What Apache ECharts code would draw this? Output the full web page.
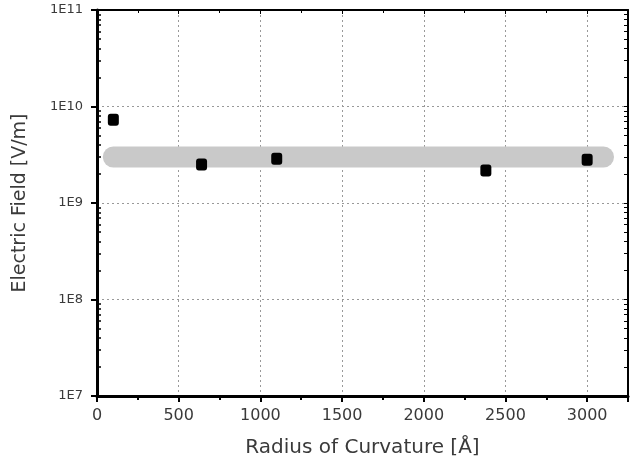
<!DOCTYPE html>
<html>
<head>
<meta charset="utf-8">
<script src="https://cdn.jsdelivr.net/npm/echarts@6/dist/echarts.min.js"></script>
<style>
  html, body { margin: 0; padding: 0; background: #fff; }
  #chart { width: 633px; height: 474px; }
</style>
</head>
<body>
<div id="chart"></div>
<script>
// measured points
const radius = [100, 640, 1100, 2380, 3000];
const field = [7.3e9, 2.5e9, 2.87e9, 2.17e9, 2.8e9];

// gray guide band
const bandX = [100, 3100];
const bandY = [3e9, 3e9];

// log minor tick values
const minorY = [];
[1e7, 1e8, 1e9, 1e10].forEach(d => {
  for (let k = 2; k <= 9; k++) minorY.push(k * d);
});
const majorY = [1e7, 1e8, 1e9, 1e10, 1e11];

const textColor = '#3a3a3a';
const font = 'DejaVu Sans';

let chart = echarts.init(document.getElementById('chart'));
let option = {
  animation: false,
  grid: { left: 97, right: 5, top: 10, bottom: 78 },
  xAxis: [
    {
      type: 'value',
      min: 0,
      max: 3250,
      interval: 500,
      name: 'Radius of Curvature [Å]',
      nameLocation: 'middle',
      nameGap: 42,
      nameTextStyle: { color: textColor, fontSize: 20, fontFamily: font },
      axisLine: { lineStyle: { color: '#000', width: 3 } },
      axisTick: { length: 6, lineStyle: { color: '#000', width: 2 } },
      minorTick: { show: true, splitNumber: 2, length: 4, lineStyle: { color: '#000', width: 2 } },
      axisLabel: {
        color: textColor, fontSize: 16, fontFamily: font, margin: 12,
        formatter: v => (v > 3000 ? '' : String(v))
      },
      splitLine: { show: true, lineStyle: { color: '#999', type: [2, 3], width: 1 } }
    },
    {
      type: 'value',
      position: 'top',
      min: 0,
      max: 3250,
      interval: 500,
      axisLine: { lineStyle: { color: '#000', width: 2 } },
      axisTick: { inside: true, length: 4, lineStyle: { color: '#000', width: 1 } },
      minorTick: { show: true, splitNumber: 2, length: 3, lineStyle: { color: '#000' } },
      axisLabel: { show: false },
      splitLine: { show: false }
    }
  ],
  yAxis: [
    {
      type: 'log',
      logBase: 10,
      min: 1e7,
      max: 1e11,
      name: 'Electric Field [V/m]',
      nameLocation: 'middle',
      nameGap: 67,
      nameTextStyle: { color: textColor, fontSize: 19, fontFamily: font },
      axisLine: { lineStyle: { color: '#000', width: 3 } },
      axisTick: { length: 6, lineStyle: { color: '#000', width: 2 } },
      axisLabel: {
        color: textColor, fontSize: 13, fontFamily: font, margin: 14,
        formatter: v => '1E' + Math.round(Math.log10(v))
      },
      splitLine: { show: true, lineStyle: { color: '#999', type: [2, 3], width: 1 } }
    },
    {
      type: 'log',
      logBase: 10,
      min: 1e7,
      max: 1e11,
      position: 'left',
      axisLine: { show: false },
      axisTick: { inside: true, length: 4, customValues: minorY, lineStyle: { color: '#000', width: 1.5 } },
      axisLabel: { show: false },
      splitLine: { show: false }
    },
    {
      type: 'log',
      logBase: 10,
      min: 1e7,
      max: 1e11,
      position: 'right',
      axisLine: { lineStyle: { color: '#000', width: 2 } },
      axisTick: { inside: true, length: 4, customValues: majorY.concat(minorY), lineStyle: { color: '#000', width: 1 } },
      axisLabel: { show: false },
      splitLine: { show: false }
    }
  ],
  series: [
    {
      type: 'line',
      data: bandX.map((x, i) => [x, bandY[i]]),
      symbol: 'none',
      silent: true,
      lineStyle: { color: '#c9c9c9', width: 21, cap: 'round' },
      z: 1
    },
    {
      type: 'scatter',
      data: radius.map((x, i) => [x, field[i]]),
      symbol: 'roundRect',
      symbolSize: [11, 12],
      itemStyle: { color: '#000', opacity: 1 },
      z: 3
    }
  ]
};
chart.setOption(option);
</script>
</body>
</html>
